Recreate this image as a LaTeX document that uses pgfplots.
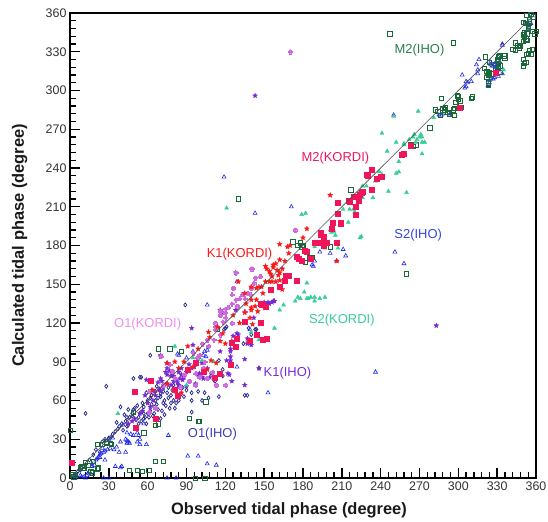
\documentclass[border=0pt]{standalone}
\usepackage{fontspec}
\setmainfont{Liberation Sans}
\usepackage{pgfplots}
\pgfplotsset{compat=1.18}

\definecolor{cM2K}{RGB}{240,20,90}
\definecolor{cK1K}{RGB}{250,25,25}
\definecolor{cO1K}{RGB}{205,105,220}
\definecolor{cO1Kt}{RGB}{240,140,240}
\definecolor{cS2K}{RGB}{55,205,150}
\definecolor{cM2I}{RGB}{25,105,55}
\definecolor{cM2It}{RGB}{40,125,75}
\definecolor{cS2I}{RGB}{30,40,235}
\definecolor{cS2It}{RGB}{50,70,225}
\definecolor{cK1I}{RGB}{120,40,210}
\definecolor{cO1I}{RGB}{35,35,140}
\definecolor{cO1It}{RGB}{60,60,185}

\pgfdeclareplotmark{fstar}{%
  \pgfpathmoveto{\pgfpointpolar{90}{\pgfplotmarksize}}%
  \pgfpathlineto{\pgfpointpolar{126}{0.45\pgfplotmarksize}}%
  \pgfpathlineto{\pgfpointpolar{162}{\pgfplotmarksize}}%
  \pgfpathlineto{\pgfpointpolar{198}{0.45\pgfplotmarksize}}%
  \pgfpathlineto{\pgfpointpolar{234}{\pgfplotmarksize}}%
  \pgfpathlineto{\pgfpointpolar{270}{0.45\pgfplotmarksize}}%
  \pgfpathlineto{\pgfpointpolar{306}{\pgfplotmarksize}}%
  \pgfpathlineto{\pgfpointpolar{342}{0.45\pgfplotmarksize}}%
  \pgfpathlineto{\pgfpointpolar{18}{\pgfplotmarksize}}%
  \pgfpathlineto{\pgfpointpolar{54}{0.45\pgfplotmarksize}}%
  \pgfpathclose
  \pgfusepathqfillstroke
}
\pgfdeclareplotmark{fplus}{%
  \pgfpathmoveto{\pgfpoint{0.35\pgfplotmarksize}{\pgfplotmarksize}}%
  \pgfpathlineto{\pgfpoint{0.35\pgfplotmarksize}{0.35\pgfplotmarksize}}%
  \pgfpathlineto{\pgfpoint{\pgfplotmarksize}{0.35\pgfplotmarksize}}%
  \pgfpathlineto{\pgfpoint{\pgfplotmarksize}{-0.35\pgfplotmarksize}}%
  \pgfpathlineto{\pgfpoint{0.35\pgfplotmarksize}{-0.35\pgfplotmarksize}}%
  \pgfpathlineto{\pgfpoint{0.35\pgfplotmarksize}{-\pgfplotmarksize}}%
  \pgfpathlineto{\pgfpoint{-0.35\pgfplotmarksize}{-\pgfplotmarksize}}%
  \pgfpathlineto{\pgfpoint{-0.35\pgfplotmarksize}{-0.35\pgfplotmarksize}}%
  \pgfpathlineto{\pgfpoint{-\pgfplotmarksize}{-0.35\pgfplotmarksize}}%
  \pgfpathlineto{\pgfpoint{-\pgfplotmarksize}{0.35\pgfplotmarksize}}%
  \pgfpathlineto{\pgfpoint{-0.35\pgfplotmarksize}{0.35\pgfplotmarksize}}%
  \pgfpathlineto{\pgfpoint{-0.35\pgfplotmarksize}{\pgfplotmarksize}}%
  \pgfpathclose
  \pgfusepathqfillstroke
}

\begin{document}
\begin{tikzpicture}
\useasboundingbox (-70bp,-44bp) rectangle (478bp,478bp);
\begin{axis}[
  at={(0,0)}, anchor=south west,
  scale only axis, width=466bp, height=465bp,
  xmin=0, xmax=360, ymin=0, ymax=360,
  xtick distance=30, ytick distance=30, minor tick num=4,
  tick align=inside, tick pos=left,
  major tick length=10bp, minor tick length=6bp,
  every tick/.style={black, line width=1.4pt},
  axis line style={line width=1.6pt},
  ticklabel style={font=\fontsize{12.5}{14}\selectfont, text=black!80},
  /pgf/number format/assume math mode=true,
  clip mode=individual,
  xlabel={Observed tidal phase (degree)},
  ylabel={Calculated tidal phase (degree)},
  label style={font=\fontsize{16.5}{19}\selectfont\bfseries, text=black!90},
  xlabel style={at={(axis description cs:0.47,-0.069)}, anchor=center},
  ylabel style={at={(axis description cs:-0.108,0.5)}, anchor=center},
]

% O1(IHO)
\addplot[only marks, mark=diamond, mark size=2bp, color=cO1I, mark options={line width=0.7pt}] coordinates {
(28,71) (12,50) (39,55) (45,53) (32,32) (48,48) (59,66) (63,57) (68,53) (54,50) (57,46) (53,42) (45,41) (44,40) (41,37) (59,42) (64,48) (70,46) (73,49) (77,54) (80,60) (72,58) (75,66) (67,71) (62,62) (57,55) (49,53) (50,54) (70,63) (79,68) (84,72) (90,68) (88,63) (82,58) (94,60) (94,66) (23,20) (17,11) (8,6) (49,77) (54,78) (62,95) (81,54) (94,51) (99,67) (109,81) (107,62) (118,84) (115,91) (135,64) (89,134) (55,78) (124,90) (134,104) (138,116) (146,85) (104,66) (112,75) (115,63) (120,116) (121,117) (119,115) (143,115) (140,111) (118,79) (111,76) (137,64) (102,60) (144,115)
(51,45) (55,44) (58,47) (60,50) (62,52) (65,55) (67,57) (60,60) (56,58) (52,56) (48,50) (46,47) (43,44) (40,42) (38,40) (35,36) (33,34) (30,31) (66,60) (68,62) (70,65) (73,60) (76,62) (78,64) (74,56) (71,52) (65,50) (61,47) (57,50) (53,47) (63,64) (66,67) (69,69) (72,67) (76,70) (80,72) (82,66) (85,64) (87,70) (78,58) (84,60) (44,47) (42,49) (36,43) (37,38) (27,30) (25,28) (20,22) (18,18) (15,14) (12,10) (10,9) (6,5) (4,3)
};

% S2(IHO)
\addplot[only marks, mark=triangle, mark size=2.3bp, color=cS2I, mark options={line width=0.6pt}] coordinates {
(44,35) (49,33) (47,34) (44,29) (43,30) (45,28) (46,27) (44,27) (39,28) (29,22) (31,23) (27,21) (25,23) (26,20) (24,19) (23,18) (22,16) (23,16) (20,14) (21,15) (15,5) (14,4) (16,3) (13,2) (11,1) (12,0) (9,1) (8,2) (5,1) (4,0) (3,1) (52,35) (53,33) (57,42) (43,20) (39,8) (27,14) (30,0) (82,0) (99,17) (113,10) (76,33) (59,26) (52,28) (40,9) (54,30) (75,0) (91,17) (106,11) (35,9) (38,20) (34,22) (54,26) (26,0) (19,10) (17,9) (36,24) (33,31) (30,30) (41,41)
(334,336) (316,324) (327,319) (328,320) (330,317) (329,318) (331,316) (326,319) (325,320) (329,322) (332,322) (334,313) (331,311) (322,313) (315,316) (324,308) (325,309) (323,304) (303,312) (306,307) (307,306) (310,307) (305,302) (306,303) (287,281) (288,282) (250,281) (354,348) (352,343) (356,352) (352,352) (355,356) (357,358) (314,320) (325,322) (330,319) (331,321) (331,326) (334,335) (328,310) (327,309) (315,313) (324,306) (285,281) (293,281) (294,282)
(119,233) (143,205) (171,210) (251,175) (258,166) (193,175) (201,174) (211,177) (213,172) (206,168) (188,164) (189,168) (187,165) (106,134) (129,152) (153,66) (129,86) (104,98) (106,99) (84,95) (83,96) (139,115) (103,95) (105,94) (90,93) (95,98) (236,82)
};

% M2(IHO)
\addplot[only marks, mark=square, mark size=2.2bp, color=cM2I, mark options={line width=0.6pt}] coordinates {
(356,359) (358,357) (353,358) (355,355) (352,352) (350,353) (354,350) (351,345) (353,344) (350,343) (357,346) (357,332) (355,331) (356,328) (344,337) (346,335) (348,334) (350,338) (344,331) (342,332) (347,333) (336,327) (352,340) (353,339) (350,324) (351,321) (352,322) (353,328) (354,329) (350,319) (331,326) (332,327) (330,324) (329,320) (331,321) (332,319) (329,316) (331,317) (332,314) (324,312) (326,313) (322,315) (323,313) (321,326) (324,322) (300,293) (298,291) (301,292) (300,295) (299,296) (310,294) (311,295) (297,286) (288,286) (289,285) (282,285) (284,284) (292,283) (293,282) (297,281) (296,285) (287,294) (278,271) (286,281) (265,257) (263,258) (323,306) (323,304) (322,310) (247,344) (296,337) (290,287) (302,287) (267,258) (335,327) (336,325) (359,344) (360,346) (354,348) (355,352) (351,341) (352,339) (320,317) (324,314) (325,313) (323,312)
(49,51) (28,28) (25,26) (32,26) (31,27) (18,13) (10,8) (11,8) (3,1) (0,37) (22,8) (21,7) (52,6) (61,6) (72,13) (57,35) (66,41) (68,42) (92,46) (99,44) (68,100) (77,100) (86,98) (105,59) (100,44) (104,0) (114,115) (172,183) (179,179) (180,180) (185,171) (187,171) (176,180) (178,182) (201,179) (182,167) (260,158) (217,223) (130,216) (9,9) (8,8) (16,5) (17,4) (21,26) (28,27) (46,6) (56,5) (66,13) (97,0) (2,3) (4,2) (12,12) (14,10)
};

% K1(IHO)
\addplot[only marks, mark=fstar, mark size=2.6bp, color=cK1I, mark options={line width=0.2pt}] coordinates {
(128,159) (146,85) (135,72) (156,136) (154,135) (157,137) (152,135) (137,104) (138,105) (140,103) (124,100) (116,98) (106,85) (100,81) (108,78) (97,73) (90,71) (86,85) (124,94) (126,110) (143,296) (283,118) (116,130) (118,128) (128,130) (150,136) (153,136) (158,137) (142,124) (125,75) (122,81) (123,80) (135,92) (124,91) (137,108) (75,73) (69,68) (70,67) (59,76) (84,72) (94,116) (95,103) (70,95) (70,94) (75,89) (100,94) (102,89) (75,85) (77,83) (79,81) (78,79) (75,80) (74,82) (84,82) (80,79) (82,76) (80,75) (85,77) (87,76) (70,77) (71,75) (68,74) (63,68) (65,67) (58,64) (94,85) (99,80) (102,78) (103,77) (121,91) (124,98) (129,112) (130,111) (88,78) (83,74) (60,58) (64,60) (56,52) (50,46) (48,44) (45,42) (54,50) (62,55) (66,64) (72,70) (78,72) (90,82) (86,80) (92,88) (96,86)
};

% S2(KORDI)
\addplot[only marks, mark=triangle*, mark size=2.3bp, color=cS2K] coordinates {
(269,284) (241,267) (266,266) (270,264) (268,262) (272,264) (252,260) (258,258) (272,260) (245,253) (254,245) (272,251) (239,237) (241,235) (252,236) (254,237) (236,230) (229,226) (246,222) (260,221) (234,217) (224,222) (222,218) (226,217) (211,208) (219,208) (220,206) (215,198) (202,190) (205,188) (225,187) (250,280) (121,209) (226,226) (183,151) (176,140) (183,139) (186,140) (189,140) (189,137) (174,137) (165,134) (162,130) (158,116) (140,113) (201,192) (204,191) (224,186) (179,204) (182,205) (216,208) (207,178) (197,178) (189,179) (335,316) (281,279) (265,264) (258,259) (271,266) (262,262) (267,260) (37,50) (81,102) (95,93) (102,91) (90,72) (181,144) (178,139) (184,139) (193,139) (197,140) (146,107) (111,90) (99,92) (274,260)
};

% O1(KORDI)
\addplot[only marks, mark=fplus, mark size=2bp, color=cO1K, mark options={line width=0.2pt}] coordinates {
(174,192) (140,147) (126,147) (125,142) (133,142) (139,142) (135,139) (128,138) (125,135) (129,133) (135,129) (120,128) (116,126) (112,120) (112,117) (122,132) (116,129) (120,124) (125,120) (112,115) (116,111) (106,107) (111,107) (107,102) (100,95) (104,90) (97,81) (100,78) (106,77) (113,72) (120,72) (97,72) (102,104) (140,162) (128,159) (147,156) (142,151) (137,143) (131,139) (120,131) (170,330) (141,162) (70,94) (77,88) (81,77) (72,72) (66,54) (61,51) (98,93) (103,85) (110,82) (61,67) (88,80) (92,75) (85,70) (79,83) (95,97) (118,121) (143,155)
};

% K1(KORDI)
\addplot[only marks, mark=fstar, mark size=2.7bp, color=cK1K, mark options={line width=0.2pt}] coordinates {
(183,193) (170,180) (168,179) (169,174) (162,169) (166,168) (157,163) (155,158) (157,165) (160,161) (162,159) (159,166) (154,160) (161,157) (164,162) (156,156) (152,162) (159,152) (154,152) (151,152) (162,153) (130,152) (135,143) (144,147) (146,148) (149,143) (140,138) (136,135) (143,133) (140,130) (135,128) (126,126) (139,124) (131,120) (141,119) (145,129) (140,132) (114,117) (118,112) (107,113) (108,109) (116,106) (120,104) (99,100) (91,102) (88,90) (81,90) (75,89) (95,86) (84,85) (106,84) (109,91) (113,89) (125,106) (75,73) (86,66) (64,68) (201,219) (180,186) (162,181) (151,164) (156,152) (148,148) (164,146) (206,168) (144,138) (140,148)
};

% M2(KORDI)
\addplot[only marks, mark=square*, mark size=2.5bp, color=cM2K] coordinates {
(233,239) (229,235) (241,233) (233,223) (226,222) (224,219) (219,218) (216,214) (221,210) (207,213) (207,205) (258,251) (263,257) (230,234) (237,232) (225,221) (221,218) (223,215) (215,215) (203,198) (209,197) (194,190) (196,187) (196,180) (189,182) (183,175) (177,170) (167,157) (175,153) (166,153) (162,148) (148,134) (151,133) (135,121) (144,111) (129,108) (125,105) (128,102) (139,106) (124,88) (116,81) (112,78) (103,82) (97,89) (91,84) (81,68) (83,64) (62,75) (50,67) (66,46) (51,39) (1,12) (329,314) (301,287) (256,250) (240,233) (202,193) (194,188) (198,182) (206,182) (194,182) (181,176) (175,171) (186,170) (179,168) (169,157) (155,146) (147,135) (149,134) (147,120) (149,107) (152,108) (221,204) (209,198)
};

\addplot[gray!60!black, line width=0.6pt] coordinates {(0,0) (360,360)};

\node[text=cM2It, font=\fontsize{13}{15}\selectfont] at (axis cs:270,331) {M2(IHO)};
\node[text=cM2K, font=\fontsize{13}{15}\selectfont] at (axis cs:205,248) {M2(KORDI)};
\node[text=cK1K, font=\fontsize{13}{15}\selectfont] at (axis cs:131,173) {K1(KORDI)};
\node[text=cS2It, font=\fontsize{13}{15}\selectfont] at (axis cs:269,188) {S2(IHO)};
\node[text=cO1Kt, font=\fontsize{13}{15}\selectfont] at (axis cs:60,119) {O1(KORDI)};
\node[text=cS2K, font=\fontsize{13}{15}\selectfont] at (axis cs:210,122) {S2(KORDI)};
\node[text=cK1I, font=\fontsize{13}{15}\selectfont] at (axis cs:168,81) {K1(IHO)};
\node[text=cO1It, font=\fontsize{13}{15}\selectfont] at (axis cs:110,34) {O1(IHO)};
\end{axis}
\end{tikzpicture}
\end{document}
